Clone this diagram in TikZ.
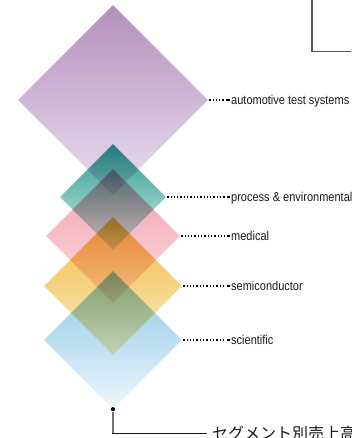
\documentclass[tikz,border=0pt]{standalone}
\usepackage{fontspec}
\newfontfamily\lblfont[FakeStretch=0.86]{Liberation Sans}
\newfontfamily\cjkfont{Noto Sans CJK JP}
\usetikzlibrary{shapes.geometric}

% diamond colours: darker at the top, lighter at the bottom
\definecolor{purpleTop}{HTML}{B48FBD}
\definecolor{purpleMid}{HTML}{CDB6D6}
\definecolor{purpleBot}{HTML}{E8E0F0}
\definecolor{tealTop}{HTML}{2A9A8C}
\definecolor{tealMid}{HTML}{A6D5CD}
\definecolor{tealBot}{HTML}{D8EDE9}
\definecolor{pinkTop}{HTML}{F29CAB}
\definecolor{pinkMid}{HTML}{F5C0C9}
\definecolor{pinkBot}{HTML}{FAE2E6}
\definecolor{yellowTop}{HTML}{F0BC44}
\definecolor{yellowMid}{HTML}{F6D588}
\definecolor{yellowBot}{HTML}{FBEBC2}
\definecolor{blueTop}{HTML}{88C6E6}
\definecolor{blueMid}{HTML}{BADCF1}
\definecolor{blueBot}{HTML}{EEF6FC}
\definecolor{labelink}{HTML}{1A1A1A}
\definecolor{frameline}{HTML}{555555}
\definecolor{stemline}{HTML}{707070}

\begin{document}
\begin{tikzpicture}[x=1pt,y=-1pt,
  gem/.style={diamond, shape aspect=1, inner sep=0pt, draw=none,
    minimum width=#1, minimum height=#1, blend mode=multiply},
  lbl/.style={font=\lblfont\fontsize{12.8}{14}\selectfont, text=labelink,
    inner sep=0pt, anchor=base west},
  dotline/.style={draw=black, line width=1.3pt, dash pattern=on 1.3pt off 2pt},
  endtick/.style={draw=black, line width=1.3pt},
  segtitle/.style={font=\cjkfont\fontsize{16}{18}\selectfont, text=labelink,
    inner sep=0pt, anchor=base west},
  segdotstyle/.style={circle, fill=black, inner sep=0pt, minimum size=4.2pt},
]
\useasboundingbox (0,0) rectangle (351,438);
\fill[white] (0,0) rectangle (351,438);
\clip (0,0) rectangle (351,438);

% frame in the upper right corner
\draw[frameline, line width=1.3pt] (312,-4) rectangle (360,51.5);

% stacked diamonds
\node[gem=190, top color=purpleTop, middle color=purpleMid, bottom color=purpleBot] (dauto) at (113,100) {};
\node[gem=106, top color=tealTop, middle color=tealMid, bottom color=tealBot] (dproc) at (113,197) {};
\node[gem=134, top color=pinkTop, middle color=pinkMid, bottom color=pinkBot] (dmed) at (113,236) {};
\node[gem=138, top color=yellowTop, middle color=yellowMid, bottom color=yellowBot] (dsemi) at (113,286) {};
\node[gem=138, top color=blueTop, middle color=blueMid, bottom color=blueBot] (dsci) at (113,340) {};

% labels
\node[lbl] (lauto) at (231,104.8) {automotive test systems};
\node[lbl] (lproc) at (231,201.6) {process \& environmental};
\node[lbl] (lmed)  at (231,240.6) {medical};
\node[lbl] (lsemi) at (231,290.8) {semiconductor};
\node[lbl] (lsci)  at (231,344.8) {scientific};

% dotted leaders from each diamond's right corner to its label
\foreach \d/\l in {dauto/lauto, dproc/lproc, dmed/lmed, dsemi/lsemi, dsci/lsci}{
  \path (\d.east -| \l.west) coordinate (\l-end);
  \draw[dotline] ([xshift=1pt]\d.east) -- ([xshift=-5pt]\l-end);
  \draw[endtick] ([xshift=-3.8pt]\l-end) -- ([xshift=-1pt]\l-end);
}

% stem from the bottom tip to the segment title
\node[segdotstyle] (segdot) at (dsci.south) {};
\coordinate (segline) at (207,433);
\node[segtitle] (seg) at (212,439.5) {セグメント別売上高};
\draw[stemline, line width=1.4pt] (segdot) -- (segdot |- segline);
\draw[labelink, line width=1pt] ([xshift=-0.7pt]segdot |- segline) -- (segline);
\end{tikzpicture}
\end{document}
